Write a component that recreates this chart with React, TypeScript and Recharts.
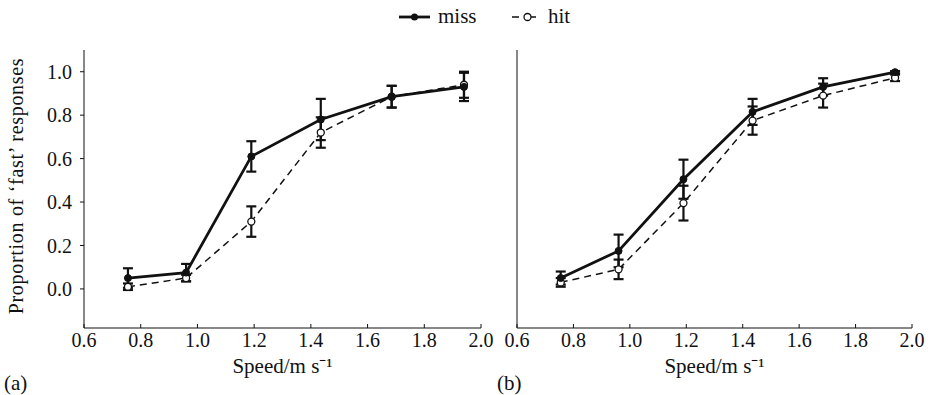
import React from "react";
import { LineChart, Line, XAxis, YAxis, ErrorBar } from "recharts";

const speeds = [0.755, 0.96, 1.19, 1.435, 1.685, 1.94];

const missA = [0.05, 0.075, 0.61, 0.78, 0.885, 0.93];
const missAErr = [0.045, 0.04, 0.07, 0.095, 0.05, 0.065];
const hitA = [0.01, 0.05, 0.31, 0.72, 0.885, 0.94];
const hitAErr = [0.015, 0.015, 0.07, 0.07, 0.05, 0.06];

const missB = [0.05, 0.175, 0.505, 0.815, 0.93, 0.998];
const missBErr = [0.03, 0.075, 0.09, 0.06, 0.04, 0.005];
const hitB = [0.03, 0.09, 0.395, 0.775, 0.89, 0.972];
const hitBErr = [0.02, 0.045, 0.08, 0.065, 0.055, 0.015];

const xTicks = [0.6, 0.8, 1.0, 1.2, 1.4, 1.6, 1.8, 2.0];
const yTicks = [0, 0.2, 0.4, 0.6, 0.8, 1.0];

const FONT = '"Liberation Serif", "Times New Roman", serif';
const INK = "#111";
const TEXT = { fill: INK, fontSize: 20, fontFamily: FONT };
const TICK = { fill: INK, fontSize: 20, style: TEXT };

const build = (miss: number[], missErr: number[], hit: number[], hitErr: number[]) =>
  speeds.map((s, i) => ({ speed: s, miss: miss[i], missErr: missErr[i], hit: hit[i], hitErr: hitErr[i] }));

const dataA = build(missA, missAErr, hitA, hitAErr);
const dataB = build(missB, missBErr, hitB, hitBErr);

function Panel({ data, first }: { data: any[]; first: boolean }) {
  const width = first ? 500 : 433;
  return (
    <LineChart
      width={width}
      height={395}
      data={data}
      margin={{ top: 50, right: first ? 19 : 21, left: 0, bottom: 0 }}
      style={{ fontFamily: FONT }}
    >
      <XAxis
        dataKey="speed"
        type="number"
        domain={[0.6, 2.0]}
        ticks={xTicks}
        tickFormatter={(v) => v.toFixed(1)}
        height={67}
        stroke={INK}
        tick={TICK}
        tickSize={-4}
        tickMargin={9}
        allowDataOverflow
        label={{
          value: "Speed/m  s⁻¹",
          position: "center",
          dy: 4,
          style: { ...TEXT, fontSize: 21 },
        }}
      />
      <YAxis
        type="number"
        domain={[-0.18, 1.1]}
        ticks={yTicks}
        width={first ? 84 : 17}
        stroke={INK}
        tick={first ? TICK : false}
        tickFormatter={(v) => (first ? v.toFixed(1) : "")}
        tickSize={first ? 4 : -4}
        tickMargin={8}
        allowDataOverflow
        label={
          first
            ? {
                value: "Proportion of  ‘fast’  responses",
                angle: -90,
                position: "center",
                dx: -26,
                dy: -3,
                style: { ...TEXT, letterSpacing: 0.7 },
              }
            : undefined
        }
      />
      <Line
        dataKey="hit"
        stroke={INK}
        strokeWidth={1.5}
        strokeDasharray="7 5"
        dot={{ r: 3.5, fill: "#fff", stroke: INK, strokeWidth: 1.3, strokeDasharray: "" }}
        isAnimationActive={false}
      >
        <ErrorBar dataKey="hitErr" width={5} stroke={INK} strokeWidth={2.2} direction="y" />
      </Line>
      <Line
        dataKey="miss"
        stroke={INK}
        strokeWidth={2.8}
        dot={{ r: 3.5, fill: INK, stroke: INK, strokeWidth: 1 }}
        isAnimationActive={false}
      >
        <ErrorBar dataKey="missErr" width={5} stroke={INK} strokeWidth={2.2} direction="y" />
      </Line>
    </LineChart>
  );
}

export default function App() {
  return (
    <div style={{ position: "absolute", left: 0, top: 0, width: 933, height: 395, background: "#fff", fontFamily: FONT, color: INK }}>
      <div style={{ position: "absolute", left: 0, top: 0 }}>
        <Panel data={dataA} first />
      </div>
      <div style={{ position: "absolute", left: 500, top: 0 }}>
        <Panel data={dataB} first={false} />
      </div>
      {/* legend */}
      <svg width={933} height={34} style={{ position: "absolute", left: 0, top: 0 }}>
        <line x1={399} x2={430} y1={17} y2={17} stroke={INK} strokeWidth={2.8} />
        <circle cx={414.5} cy={17} r={3.5} fill={INK} />
        <text x={438} y={23} style={{ ...TEXT, fontSize: 21 }}>miss</text>
        <line x1={512} x2={543} y1={17} y2={17} stroke={INK} strokeWidth={1.5} strokeDasharray="7 10" />
        <circle cx={527.5} cy={17} r={3.5} fill="#fff" stroke={INK} strokeWidth={1.3} />
        <text x={548} y={23} style={{ ...TEXT, fontSize: 21 }}>hit</text>
      </svg>
      <div style={{ position: "absolute", left: 4, top: 372, fontSize: 21, lineHeight: "22px" }}>(a)</div>
      <div style={{ position: "absolute", left: 497, top: 372, fontSize: 21, lineHeight: "22px" }}>(b)</div>
    </div>
  );
}
